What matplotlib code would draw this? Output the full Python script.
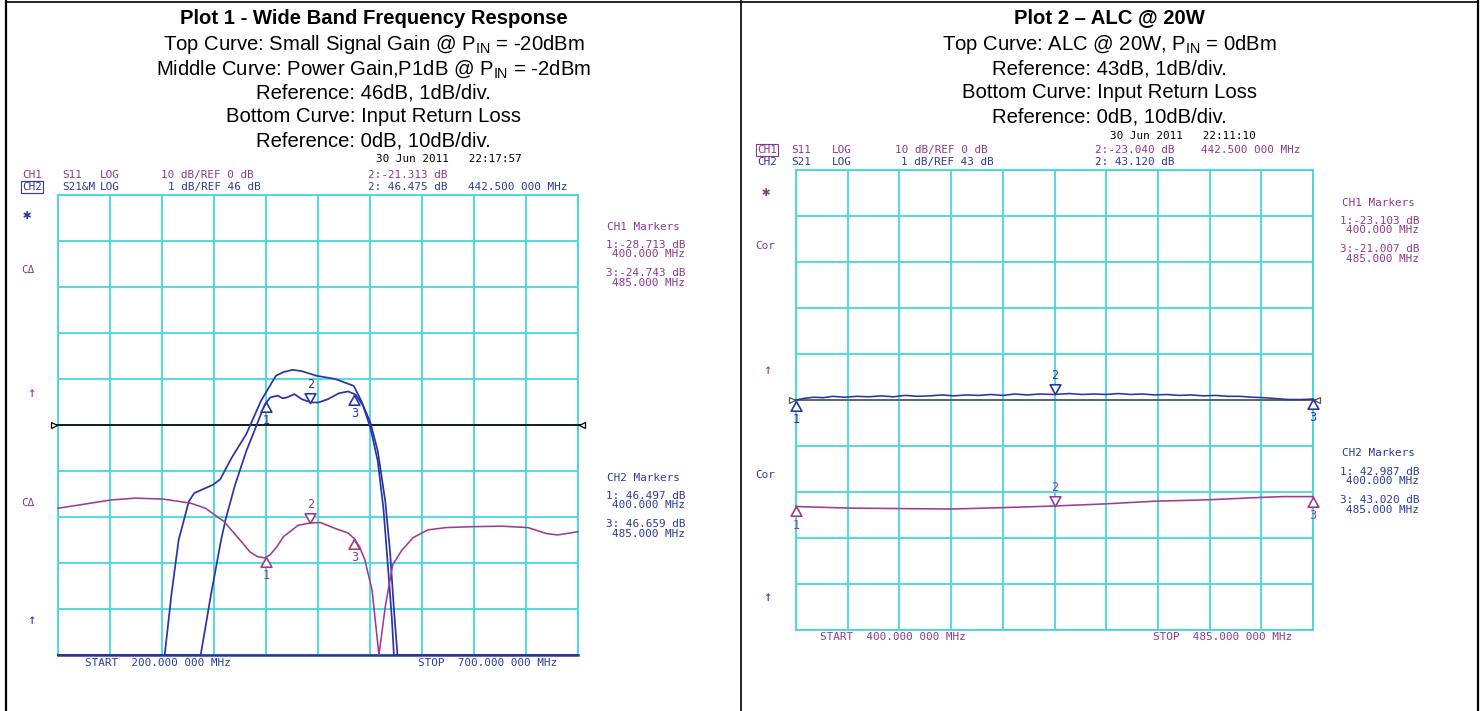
import numpy as np
import matplotlib
matplotlib.use("Agg")
import matplotlib.pyplot as plt
from matplotlib.lines import Line2D
from matplotlib.path import Path

plt.rcParams['mathtext.fontset'] = 'custom'
plt.rcParams['mathtext.rm'] = 'Liberation Sans'
plt.rcParams['mathtext.it'] = 'Liberation Sans:italic'
plt.rcParams['mathtext.bf'] = 'Liberation Sans:bold'

# ---------------- data: Plot 1 (200-700 MHz) ----------------
p1_span = [200, 700]
p1_ch2_ref, p1_ch1_ref = 46.0, 0.0
# Top curve: small signal gain (CH2 memory, dB)
f_ssg = [200, 250, 300, 302.6, 309, 316, 325.8, 331, 349, 356, 366.8, 381, 395.3,
         409.5, 416.7, 425.6, 434.5, 448.7, 466.6, 484.4, 491.5, 500.4, 507.5,
         514.7, 519.3, 523, 526.4, 560, 600, 650, 700]
g_ssg = [41.0, 41.0, 41.0, 41.0, 42.3, 43.5, 44.34, 44.52, 44.70, 44.82, 45.28, 45.80, 46.53,
         47.07, 47.15, 47.20, 47.17, 47.07, 47.00, 46.85, 46.53, 46.05, 45.43,
         44.34, 43.24, 42.0, 41.0, 41.0, 41.0, 41.0, 41.0]
# Middle curve: power gain (CH2, dB)
f_pg = [200, 250, 300, 337.2, 347, 356.8, 361.4, 370.3, 381, 390, 398.9, 404.2, 411.3,
        416, 420.2, 427.4, 434.5, 443.4, 450.5, 459.4, 470.1, 479, 486.2, 493.3,
        500.4, 507.5, 512.9, 517, 521, 523, 560, 600, 650, 700]
g_pg = [41.0, 41.0, 41.0, 41.0, 42.3, 43.5, 43.97, 44.70, 45.43, 45.94, 46.45, 46.60, 46.64,
        46.58, 46.60, 46.67, 46.56, 46.49, 46.49, 46.56, 46.69, 46.73, 46.66, 46.42,
        45.94, 45.21, 44.19, 43.0, 41.8, 41.0, 41.0, 41.0, 41.0, 41.0]
# Bottom curve: input return loss (CH1, dB)
f_s11 = [200, 251, 274, 301, 327.6, 341.8, 359.7, 373.9, 384.6, 391.7, 398.8, 404, 411,
         416.7, 430.9, 442.5, 452.3, 466.6, 479, 485, 490, 495, 502, 508.6, 514.7,
         521.8, 530.7, 541.4, 555.6, 573.4, 598.4, 626.9, 651.9, 669.7, 680.4, 700]
v_s11 = [-18.1, -16.3, -15.9, -16.1, -17.0, -18.1, -21.0, -24.7, -27.6, -28.6, -28.9, -28.2, -26.3,
         -24.3, -21.8, -21.3, -21.2, -22.5, -23.5, -24.7, -26.5, -29.3, -35.9, -50.0, -39.5,
         -30.4, -27.2, -24.5, -22.8, -22.3, -22.1, -22.0, -22.3, -23.6, -23.9, -23.2]
p1_mk_f = [400.0, 442.5, 485.0]
p1_mk_ch1 = [-28.713, -21.313, -24.743]
p1_mk_ch2 = [46.497, 46.475, 46.659]

# ---------------- data: Plot 2 (400-485 MHz) ----------------
p2_span = [400, 485]
p2_ch2_ref, p2_ch1_ref = 43.0, 0.0
f2_s21 = [400, 401.5, 403, 404.5, 406, 408, 410, 412, 414, 416, 418, 420, 422, 424, 426,
          428, 430, 432, 434, 436, 438, 440, 442.5, 445, 447, 449, 451, 453, 455, 457,
          459, 461, 463, 465, 467, 469, 471, 473, 475, 477, 479, 481, 483, 485]
v2_s21 = [43.00, 43.04, 43.06, 43.05, 43.08, 43.06, 43.08, 43.07, 43.09, 43.07, 43.10, 43.08, 43.09, 43.11, 43.09,
          43.11, 43.10, 43.12, 43.10, 43.13, 43.11, 43.13, 43.12, 43.14, 43.12, 43.13, 43.12, 43.14, 43.12, 43.13,
          43.11, 43.12, 43.10, 43.11, 43.09, 43.10, 43.08, 43.08, 43.06, 43.05, 43.03, 43.01, 43.01, 43.02]
f2_s11 = [400, 401, 408.8, 417, 425.5, 434, 442.5, 450.6, 459, 467.6, 476, 480, 485]
v2_s11 = [-23.1, -23.2, -23.5, -23.6, -23.7, -23.4, -23.04, -22.6, -22.0, -21.7, -21.2, -21.0, -21.0]
p2_mk_f = [400.0, 442.5, 485.0]
p2_mk_ch1 = [-23.103, -23.040, -21.007]
p2_mk_ch2 = [42.987, 43.120, 43.020]

# ---------------- styling ----------------
W, H = 1483, 711
CYAN = '#44D8E0'
BLUE = '#2A34A6'
PURPLE = '#9A3C96'
TBLUE = '#2B3A9C'
TPURP = '#8E3A8C'
MONO = 'DejaVu Sans Mono'
MFS = 7.9
HFONT = 'Liberation Sans'
HFS = 14.6

fig = plt.figure(figsize=(W / 100, H / 100), dpi=100)
fig.patch.set_facecolor('white')


def ft(x, y, s, **kw):
    return fig.text(x / W, 1 - y / H, s, **kw)


def mono(x, y, s, color, ha='left', size=MFS, **kw):
    return ft(x, y, s, family=MONO, fontsize=size, color=color, ha=ha, va='center', **kw)


def hline(x0, x1, y, color='black', lw=1.5):
    fig.add_artist(Line2D([x0 / W, x1 / W], [1 - y / H, 1 - y / H], color=color, lw=lw,
                          transform=fig.transFigure))


def vline(x, y0, y1, color='black', lw=1.5):
    fig.add_artist(Line2D([x / W, x / W], [1 - y0 / H, 1 - y1 / H], color=color, lw=lw,
                          transform=fig.transFigure))


# table borders
vline(6.5, 1, 711, lw=1.6)
vline(741, 1, 711, lw=1.2)
vline(1477.5, 1, 711, lw=1.6)
hline(6, 1478, 1.5, lw=1.2)

UP = Path([(0, 0), (-0.55, -1), (0.55, -1), (0, 0)], [Path.MOVETO, Path.LINETO, Path.LINETO, Path.CLOSEPOLY])
DOWN = Path([(0, 0), (-0.55, 1), (0.55, 1), (0, 0)], [Path.MOVETO, Path.LINETO, Path.LINETO, Path.CLOSEPOLY])


def marker(ax, x, y, num, color):
    up = num != '2'
    ax.plot([x], [y], marker=UP if up else DOWN, ms=14, mfc='white', mec=color, mew=1.2,
            clip_on=False, zorder=6, ls='none')
    ax.annotate(num, (x, y), xytext=(0, -13.5 if up else 13.5), textcoords='offset points',
                ha='center', va='center', family=MONO, fontsize=MFS + 0.6, color=color,
                annotation_clip=False, zorder=6)


def make_axes(rect_px, span, ch2_ref, ch1_ref, bottom_color):
    x0, y0, x1, y1 = rect_px
    ax = fig.add_axes([x0 / W, 1 - y1 / H, (x1 - x0) / W, (y1 - y0) / H])
    ax.set_xlim(*span)
    ax.set_ylim(ch2_ref - 5, ch2_ref + 5)
    ax.set_xticks(np.linspace(span[0], span[1], 11))
    ax.set_yticks(np.linspace(ch2_ref - 5, ch2_ref + 5, 11))
    ax.tick_params(length=0, labelbottom=False, labelleft=False)
    ax.grid(True, color=CYAN, lw=1.3)
    ax.set_axisbelow(True)
    for s in ax.spines.values():
        s.set_color(CYAN)
        s.set_linewidth(1.3)
    ax.spines['bottom'].set_color(bottom_color)
    ax.spines['bottom'].set_linewidth(1.8 if bottom_color != CYAN else 1.3)
    ax.set_facecolor('none')
    ax2 = ax.twinx()
    ax2.set_ylim(ch1_ref - 50, ch1_ref + 50)
    ax2.tick_params(length=0, labelright=False)
    for s in ax2.spines.values():
        s.set_visible(False)
    return ax, ax2


def ref_line(ax, color):
    ax.plot([-0.008, 1.008], [0.5, 0.5], transform=ax.transAxes, color=color, lw=1.2,
            clip_on=False, zorder=3)
    ax.plot([-0.008], [0.5], transform=ax.transAxes, marker='>', ms=4.5, mfc='white', mec=color,
            mew=0.9, clip_on=False, zorder=3)
    ax.plot([1.008], [0.5], transform=ax.transAxes, marker='<', ms=4.5, mfc='white', mec=color,
            mew=0.9, clip_on=False, zorder=3)


# ================= Plot 1 =================
cx1 = 373.5
ft(cx1, 18, 'Plot 1 - Wide Band Frequency Response', family=HFONT, fontsize=HFS, weight='bold',
   ha='center', va='center')
ft(cx1, 44, r'Top Curve: Small Signal Gain @ P$_{\mathrm{IN}}$ = -20dBm', family=HFONT,
   fontsize=HFS, ha='center', va='center')
ft(cx1, 69, r'Middle Curve: Power Gain,P1dB @ P$_{\mathrm{IN}}$ = -2dBm', family=HFONT,
   fontsize=HFS, ha='center', va='center')
ft(cx1, 93, 'Reference: 46dB, 1dB/div.', family=HFONT, fontsize=HFS, ha='center', va='center')
ft(cx1, 117, 'Bottom Curve: Input Return Loss', family=HFONT, fontsize=HFS, ha='center', va='center')
ft(cx1, 141, 'Reference: 0dB, 10dB/div.', family=HFONT, fontsize=HFS, ha='center', va='center')

mono(376, 159, '30 Jun 2011   22:17:57', 'black')
mono(22, 175, 'CH1', TPURP)
hline(22, 42, 181, TPURP, 0.8)
mono(62, 175, 'S11', TPURP)
mono(100, 175, 'LOG', TPURP)
mono(161, 175, '10 dB/REF 0 dB', TPURP)
mono(368, 175, '2:-21.313 dB', TPURP)
mono(22, 187, 'CH2', TBLUE, bbox=dict(boxstyle='square,pad=0.12', fc='none', ec=TBLUE, lw=0.8))
mono(62, 187, 'S21&M', TBLUE)
mono(100, 187, 'LOG', TBLUE)
mono(168, 187, '1 dB/REF 46 dB', TBLUE)
mono(368, 187, '2: 46.475 dB', TBLUE)
mono(468, 187, '442.500 000 MHz', TBLUE)

ax1, ax1b = make_axes((58, 195, 578, 655), p1_span, p1_ch2_ref, p1_ch1_ref, BLUE)
ref_line(ax1, 'black')
ax1.plot(f_ssg, g_ssg, color=BLUE, lw=1.25, zorder=4, clip_on=False)
ax1.plot(f_pg, g_pg, color=BLUE, lw=1.25, zorder=4, clip_on=False)
ax1b.plot(f_s11, v_s11, color=PURPLE, lw=1.15, zorder=4, clip_on=False)
for f, v, n in zip(p1_mk_f, p1_mk_ch2, ['1', '2', '3']):
    marker(ax1, f, v, n, BLUE)
for f, v, n in zip(p1_mk_f, p1_mk_ch1, ['1', '2', '3']):
    marker(ax1b, f, v, n, PURPLE)

# left-side annotation symbols
mono(27, 215, '✱', TBLUE, ha='center', size=10)
mono(28, 270, 'CΔ', TPURP, ha='center')
mono(31, 393, '↑', TPURP, ha='center', size=10)
mono(28, 503, 'CΔ', TPURP, ha='center')
mono(31, 620, '↑', TBLUE, ha='center', size=10)

# right-side marker readouts
mono(607, 227, 'CH1 Markers', TPURP)
mono(685, 245, '1:-28.713 dB', TPURP, ha='right')
mono(685, 254, '400.000 MHz', TPURP, ha='right')
mono(685, 273, '3:-24.743 dB', TPURP, ha='right')
mono(685, 283, '485.000 MHz', TPURP, ha='right')
mono(607, 478, 'CH2 Markers', TBLUE)
mono(685, 496, '1: 46.497 dB', TBLUE, ha='right')
mono(685, 505, '400.000 MHz', TBLUE, ha='right')
mono(685, 524, '3: 46.659 dB', TBLUE, ha='right')
mono(685, 534, '485.000 MHz', TBLUE, ha='right')

mono(85, 663, 'START  200.000 000 MHz', TBLUE)
mono(418, 663, 'STOP  700.000 000 MHz', TBLUE)

# ================= Plot 2 =================
cx2 = 1109.5
ft(cx2, 18, 'Plot 2 – ALC @ 20W', family=HFONT, fontsize=HFS, weight='bold', ha='center', va='center')
ft(cx2, 44, r'Top Curve: ALC @ 20W, P$_{\mathrm{IN}}$ = 0dBm', family=HFONT, fontsize=HFS,
   ha='center', va='center')
ft(cx2, 69, 'Reference: 43dB, 1dB/div.', family=HFONT, fontsize=HFS, ha='center', va='center')
ft(cx2, 93, 'Bottom Curve: Input Return Loss', family=HFONT, fontsize=HFS, ha='center', va='center')
ft(cx2, 117, 'Reference: 0dB, 10dB/div.', family=HFONT, fontsize=HFS, ha='center', va='center')

mono(1110, 136, '30 Jun 2011   22:11:10', 'black')
mono(757, 150, 'CH1', TPURP, bbox=dict(boxstyle='square,pad=0.12', fc='none', ec=TPURP, lw=0.8))
mono(791, 150, 'S11', TPURP)
mono(832, 150, 'LOG', TPURP)
mono(895, 150, '10 dB/REF 0 dB', TPURP)
mono(1095, 150, '2:-23.040 dB', TPURP)
mono(1201, 150, '442.500 000 MHz', TPURP)
mono(757, 162, 'CH2', TBLUE)
mono(791, 162, 'S21', TBLUE)
mono(832, 162, 'LOG', TBLUE)
mono(901, 162, '1 dB/REF 43 dB', TBLUE)
mono(1095, 162, '2: 43.120 dB', TBLUE)

ax2, ax2b = make_axes((796, 170, 1313, 630), p2_span, p2_ch2_ref, p2_ch1_ref, CYAN)
ref_line(ax2, '#555555')
ax2.plot(f2_s21, v2_s21, color=BLUE, lw=1.15, zorder=4, clip_on=False)
ax2b.plot(f2_s11, v2_s11, color=PURPLE, lw=1.15, zorder=4, clip_on=False)
for f, v, n in zip(p2_mk_f, p2_mk_ch2, ['1', '2', '3']):
    marker(ax2, f, v, n, BLUE)
for f, v, n in zip(p2_mk_f, p2_mk_ch1, ['1', '2', '3']):
    marker(ax2b, f, v, n, PURPLE)

mono(766, 192, '✱', TPURP, ha='center', size=10)
mono(765, 246, 'Cor', TPURP, ha='center')
mono(767, 370, '↑', TPURP, ha='center', size=10)
mono(765, 475, 'Cor', TBLUE, ha='center')
mono(767, 597, '↑', TBLUE, ha='center', size=10)

mono(1342, 203, 'CH1 Markers', TPURP)
mono(1419, 221, '1:-23.103 dB', TPURP, ha='right')
mono(1419, 230, '400.000 MHz', TPURP, ha='right')
mono(1419, 249, '3:-21.007 dB', TPURP, ha='right')
mono(1419, 259, '485.000 MHz', TPURP, ha='right')
mono(1342, 453, 'CH2 Markers', TBLUE)
mono(1419, 472, '1: 42.987 dB', TBLUE, ha='right')
mono(1419, 481, '400.000 MHz', TBLUE, ha='right')
mono(1419, 500, '3: 43.020 dB', TBLUE, ha='right')
mono(1419, 510, '485.000 MHz', TBLUE, ha='right')

mono(820, 637, 'START  400.000 000 MHz', TPURP)
mono(1153, 637, 'STOP  485.000 000 MHz', TPURP)

fig.savefig('out.png', dpi=100, facecolor='white')
